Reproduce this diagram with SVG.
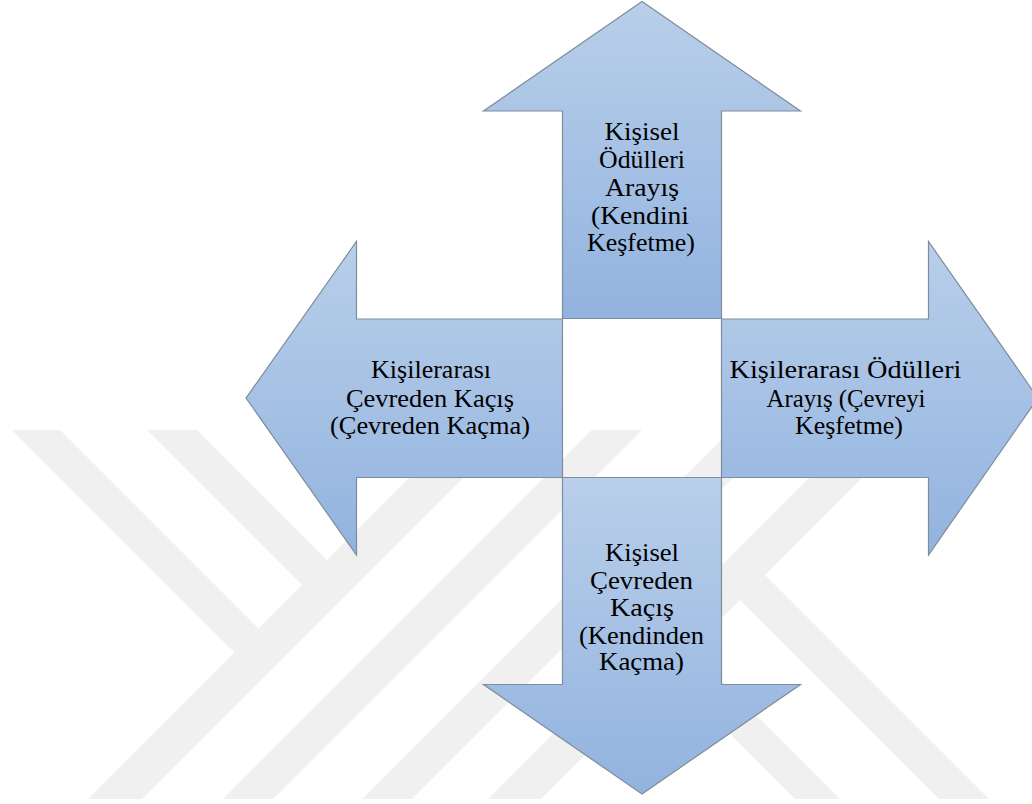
<svg xmlns="http://www.w3.org/2000/svg" width="1032" height="804" viewBox="0 0 1032 804">
  <defs>
    <linearGradient id="fillBlue" x1="0" y1="0" x2="0" y2="1">
      <stop offset="0" stop-color="#b9cfea"/>
      <stop offset="1" stop-color="#92b3df"/>
    </linearGradient>
    <style>
      .wm { fill: #f0f0f0; stroke: none; }
      .arrow { fill: url(#fillBlue); stroke: #7f8c9c; stroke-width: 1.2; stroke-linejoin: miter; }
      .lbl { font-family: "Liberation Serif", "Times New Roman", serif; font-size: 25px; fill: #000000; text-anchor: middle; }
    </style>
  </defs>
  <rect x="0" y="0" width="1032" height="804" fill="#ffffff"/>

  <g id="watermark">
    <polygon class="wm" points="12,430 60,430 258.5,628.5 234.5,652.5"/>
    <polygon class="wm" points="147,430 197,430 327,560 302,585"/>
    <polygon class="wm" points="457,430 511,430 142,799 88,799"/>
    <polygon class="wm" points="592,430 642,430 273,799 223,799"/>
    <polygon class="wm" points="731,430 781,430 412,799 362,799"/>
    <polygon class="wm" points="857,430 910,430 541,799 488,799"/>
    <polygon class="wm" points="690.5,649.5 840,799 795,799 668,672"/>
    <polygon class="wm" points="765,575 989,799 939,799 740,600"/>
  </g>

  <g id="connectors"></g>

  <g id="node-up">
    <polygon class="arrow" points="562.5,318.5 562.5,111 483.5,111 642,1.5 800.5,111 721.5,111 721.5,318.5"/>
    <text class="lbl" x="642" y="140" textLength="75" lengthAdjust="spacingAndGlyphs">Kişisel</text>
    <text class="lbl" x="642" y="168" textLength="86" lengthAdjust="spacingAndGlyphs">Ödülleri</text>
    <text class="lbl" x="642" y="196" textLength="74" lengthAdjust="spacingAndGlyphs">Arayış</text>
    <text class="lbl" x="640" y="224" textLength="98" lengthAdjust="spacingAndGlyphs">(Kendini</text>
    <text class="lbl" x="641" y="251" textLength="108" lengthAdjust="spacingAndGlyphs">Keşfetme)</text>
  </g>

  <g id="node-left">
    <polygon class="arrow" points="562.5,319 356.5,319 356.5,241.5 246,398 356.5,555 356.5,477.5 562.5,477.5"/>
    <text class="lbl" x="431" y="378" textLength="120" lengthAdjust="spacingAndGlyphs">Kişilerarası</text>
    <text class="lbl" x="430" y="406.5" textLength="168" lengthAdjust="spacingAndGlyphs">Çevreden Kaçış</text>
    <text class="lbl" x="430" y="434" textLength="200" lengthAdjust="spacingAndGlyphs">(Çevreden Kaçma)</text>
  </g>

  <g id="node-right">
    <polygon class="arrow" points="721.5,319 928.5,319 928.5,241.5 1038,398 928.5,555 928.5,477.5 721.5,477.5"/>
    <text class="lbl" x="845.5" y="378" textLength="232" lengthAdjust="spacingAndGlyphs">Kişilerarası Ödülleri</text>
    <text class="lbl" x="846" y="406.5" textLength="159" lengthAdjust="spacingAndGlyphs">Arayış (Çevreyi</text>
    <text class="lbl" x="849" y="434" textLength="108" lengthAdjust="spacingAndGlyphs">Keşfetme)</text>
  </g>

  <g id="node-down">
    <polygon class="arrow" points="562.5,477.5 721.5,477.5 721.5,684.5 800.5,684.5 642,794 483.5,684.5 562.5,684.5"/>
    <text class="lbl" x="642" y="561" textLength="74" lengthAdjust="spacingAndGlyphs">Kişisel</text>
    <text class="lbl" x="641.5" y="588.5" textLength="103" lengthAdjust="spacingAndGlyphs">Çevreden</text>
    <text class="lbl" x="642" y="616" textLength="64" lengthAdjust="spacingAndGlyphs">Kaçış</text>
    <text class="lbl" x="641.5" y="643.5" textLength="125" lengthAdjust="spacingAndGlyphs">(Kendinden</text>
    <text class="lbl" x="641.5" y="670" textLength="85" lengthAdjust="spacingAndGlyphs">Kaçma)</text>
  </g>
</svg>
